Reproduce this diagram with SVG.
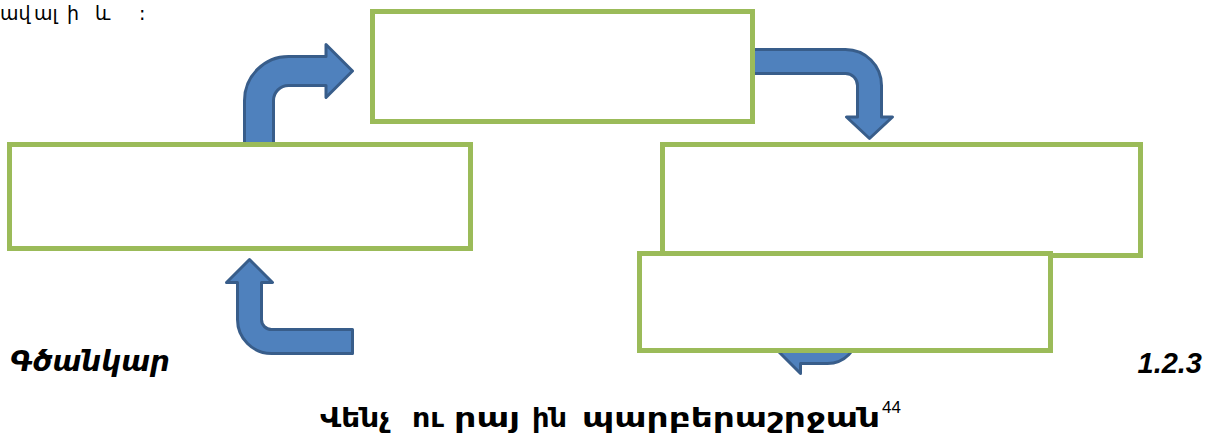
<svg xmlns="http://www.w3.org/2000/svg" width="1219" height="439" viewBox="0 0 1219 439">
<style>
.arrow{fill:#4F81BD;stroke:#385D8A;stroke-width:3;stroke-linejoin:round}
.box{fill:#FFFFFF;stroke:#9BBB59;stroke-width:5}
.arm{font-family:"DejaVu Sans","Noto Sans",sans-serif;fill:#000}
.num{font-family:"Liberation Sans",Arial,sans-serif;fill:#000}
.hd{font-size:19px}
.ttl{font-size:27px;font-weight:bold}
</style>
<rect width="1219" height="439" fill="#FFFFFF"/>
<g id="connectors">
<path class="arrow" d="M 244.5 150 V 100.5 A 44 44 0 0 1 288.5 56.5 H 326 V 44.5 L 352.5 71 L 326 97.5 V 85.5 H 288.5 A 15 15 0 0 0 273.5 100.5 V 150 Z"/>
<path class="arrow" d="M 750 49.5 H 845.5 A 36 36 0 0 1 881.5 85.5 V 117 H 892.5 L 869.5 138.5 L 846.5 117 H 857.5 V 85.5 A 12 12 0 0 0 845.5 73.5 H 750 Z"/>
<path class="arrow" d="M 833.5 270 H 857.5 V 333.5 A 30 30 0 0 1 827.5 363.5 H 800.5 V 373.5 L 778.5 351.5 L 800.5 329.5 V 339.5 H 827.5 A 6 6 0 0 0 833.5 333.5 Z"/>
<path class="arrow" d="M 249.5 259.5 L 272.5 282.5 H 261.5 V 319.5 A 10 10 0 0 0 271.5 329.5 H 352.5 V 353.5 H 271.5 A 34 34 0 0 1 237.5 319.5 V 282.5 H 226.5 Z"/>
</g>
<g id="node-top"><rect class="box" x="372.5" y="11.5" width="380" height="110"/></g>
<g id="node-left"><rect class="box" x="9.5" y="144.5" width="461" height="104"/></g>
<g id="node-right-upper"><rect class="box" x="662.5" y="144.5" width="478" height="111"/></g>
<g id="node-right-lower"><rect class="box" x="639.5" y="253.5" width="411" height="97"/></g>
<g id="texts">
<text class="arm hd" y="20"><tspan x="0">ավ</tspan><tspan x="34">ալ</tspan><tspan x="67">ի</tspan><tspan x="95">և</tspan><tspan x="139">:</tspan></text>
<text class="arm" font-size="28" font-weight="bold" font-style="italic" x="10" y="371" textLength="160" lengthAdjust="spacingAndGlyphs">Գծանկար</text>
<text class="num" font-size="29" font-weight="bold" font-style="italic" x="1202" y="373" text-anchor="end">1.2.3</text>
<text class="arm ttl" x="320" y="427" textLength="70" lengthAdjust="spacingAndGlyphs">Վենչ</text>
<text class="arm ttl" x="412" y="427" textLength="32" lengthAdjust="spacingAndGlyphs">ու</text>
<text class="arm ttl" x="454" y="427" textLength="66" lengthAdjust="spacingAndGlyphs">րայ</text>
<text class="arm ttl" x="532" y="427" textLength="35" lengthAdjust="spacingAndGlyphs">ին</text>
<text class="arm ttl" x="582" y="427" textLength="298" lengthAdjust="spacingAndGlyphs">պարբերաշրջան</text>
<text class="num" font-size="17" x="882" y="413">44</text>
</g>
</svg>
